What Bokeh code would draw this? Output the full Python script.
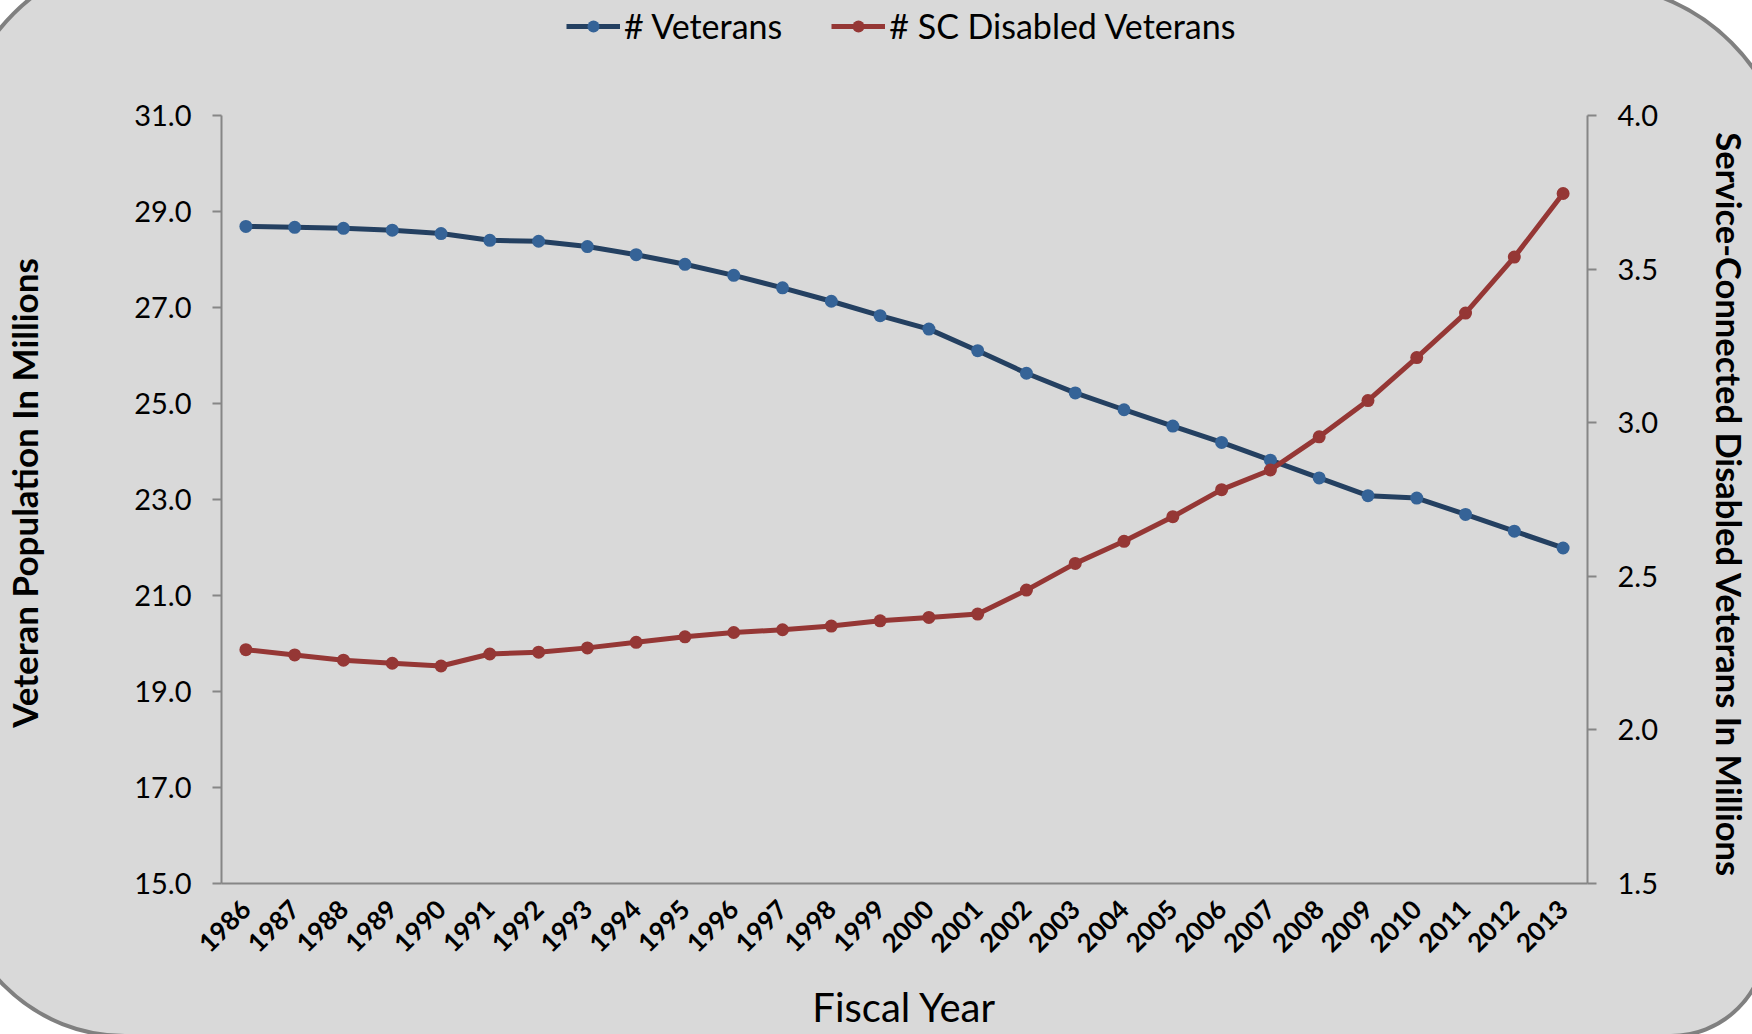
import math
from bokeh.plotting import figure
from bokeh.models import (ColumnDataSource, FactorRange, Range1d, LinearAxis, FixedTicker,
                          NumeralTickFormatter, Legend, LegendItem)
from bokeh.embed import file_html
from bokeh.resources import INLINE

# ---------------- data ----------------
years = ["1986", "1987", "1988", "1989", "1990", "1991", "1992", "1993", "1994", "1995",
         "1996", "1997", "1998", "1999", "2000", "2001", "2002", "2003", "2004", "2005",
         "2006", "2007", "2008", "2009", "2010", "2011", "2012", "2013"]
veterans = [28.69, 28.67, 28.65, 28.61, 28.54, 28.40, 28.38, 28.27, 28.10, 27.90,
            27.67, 27.41, 27.13, 26.83, 26.55, 26.10, 25.63, 25.22, 24.87, 24.53,
            24.19, 23.82, 23.45, 23.08, 23.03, 22.69, 22.34, 21.99]
sc_disabled = [2.261, 2.244, 2.227, 2.217, 2.208, 2.247, 2.253, 2.267, 2.285, 2.303,
               2.317, 2.326, 2.338, 2.355, 2.366, 2.377, 2.455, 2.542, 2.614, 2.694,
               2.782, 2.846, 2.954, 3.072, 3.212, 3.357, 3.539, 3.746]
left_ticks = [15, 17, 19, 21, 23, 25, 27, 29, 31]
right_ticks = [1.5, 2.0, 2.5, 3.0, 3.5, 4.0]
left_title = "Veteran Population In Millions"
right_title = "Service-Connected Disabled Veterans In Millions"
x_title = "Fiscal Year"

FONT = "Lato"
BLUE_LINE = "#244061"
BLUE_MARK = "#356397"
RED_LINE = "#953735"
RED_MARK = "#953735"
AXIS_GRAY = "#868686"
NBSP = "\u00a0"

# layout (pixels)
W, H = 1752, 1034
AX_TOP, AX_BOTTOM = 115, 883          # where the 31.0 / 15.0 ticks sit
frame_h = AX_BOTTOM                    # frame runs from the top of the canvas
head = AX_TOP / (AX_BOTTOM - AX_TOP)   # headroom above the axes, as a fraction of the axis span

# rounded chart-area background (decorative), drawn via CSS
bg_path = ("M -45 155 A 200 200 0 0 1 155 -45 L 1590 -16 A 200 200 0 0 1 1790 184 "
           "L 1766 941 A 95 95 0 0 1 1671 1036 L 125 1036 A 170 170 0 0 1 -45 866 Z")
bg_svg = ("<svg xmlns='http://www.w3.org/2000/svg' width='1752' height='1034'>"
          "<path d='" + bg_path + "' fill='%23d9d9d9' stroke='%23808080' stroke-width='4'/></svg>")

src = ColumnDataSource(dict(year=years, vet=veterans, sc=sc_disabled))

l0, l1 = left_ticks[0], left_ticks[-1]
r0, r1 = right_ticks[0], right_ticks[-1]
p = figure(width=W, height=H, title_location=None,
           x_range=FactorRange(factors=years, range_padding=0),
           y_range=Range1d(l0, l1 + (l1 - l0) * head),
           output_backend="svg", toolbar_location=None,
           min_border_left=219, min_border_right=157,
           min_border_top=0, min_border_bottom=H - AX_BOTTOM)
p.extra_y_ranges = {"right": Range1d(r0, r1 + (r1 - r0) * head)}

p.styles = {
    "background-image": 'url("data:image/svg+xml;utf8,' + bg_svg + '")',
    "background-repeat": "no-repeat",
}
p.border_fill_alpha = 0
p.background_fill_alpha = 0
p.outline_line_color = None
p.xgrid.visible = False
p.ygrid.visible = False

vl = p.line("year", "vet", source=src, line_color=BLUE_LINE, line_width=5)
vs = p.scatter("year", "vet", source=src, size=13, fill_color=BLUE_MARK, line_color=None)
rl = p.line("year", "sc", source=src, y_range_name="right", line_color=RED_LINE, line_width=5)
rs = p.scatter("year", "sc", source=src, y_range_name="right", size=13,
               fill_color=RED_MARK, line_color=None)

# left axis (non-breaking padding keeps the title centred on the axis span, not the canvas)
la = p.left[0]
la.ticker = FixedTicker(ticks=left_ticks)
la.formatter = NumeralTickFormatter(format="0.0")
la.bounds = (l0, l1)
la.axis_label = left_title + NBSP * 12

# right axis
ra = LinearAxis(y_range_name="right", ticker=FixedTicker(ticks=right_ticks),
                formatter=NumeralTickFormatter(format="0.0"), bounds=(r0, r1),
                axis_label=NBSP * 15 + right_title)
p.add_layout(ra, "right")

for ax in (la, ra):
    ax.axis_line_color = AXIS_GRAY
    ax.axis_line_width = 2
    ax.major_tick_line_color = AXIS_GRAY
    ax.major_tick_line_width = 2
    ax.major_tick_out = 9
    ax.major_tick_in = 0
    ax.minor_tick_line_color = None
    ax.major_label_standoff = 21
    ax.major_label_text_font = FONT
    ax.major_label_text_font_size = "29px"
    ax.major_label_text_color = "#000000"
    ax.axis_label_text_font = FONT
    ax.axis_label_text_font_style = "bold"
    ax.axis_label_text_color = "#000000"
la.axis_label_text_font_size = "35px"
ra.axis_label_text_font_size = "34.5px"
la.axis_label_standoff = 86
ra.axis_label_standoff = 48

# bottom axis
xa = p.below[0]
xa.axis_line_color = AXIS_GRAY
xa.axis_line_width = 2
xa.major_tick_line_color = None
xa.major_tick_out = 0
xa.major_tick_in = 0
xa.minor_tick_line_color = None
xa.major_label_orientation = math.pi / 4
xa.major_label_standoff = 21
xa.major_label_text_font = FONT
xa.major_label_text_font_size = "26px"
xa.major_label_text_font_style = "bold"
xa.major_label_text_color = "#000000"
xa.axis_label = x_title
xa.axis_label_text_font = FONT
xa.axis_label_text_font_size = "40px"
xa.axis_label_text_font_style = "normal"
xa.axis_label_text_color = "#000000"
xa.axis_label_standoff = 19

legend = Legend(items=[LegendItem(label="# Veterans", renderers=[vl, vs]),
                       LegendItem(label="# SC Disabled Veterans", renderers=[rl, rs])],
                orientation="horizontal", location=(345, frame_h - 46),
                background_fill_alpha=0, border_line_color=None,
                padding=0, margin=0, spacing=49, label_standoff=4,
                glyph_width=54, glyph_height=30, label_height=30,
                label_text_font=FONT, label_text_font_size="34px",
                label_text_color="#000000", label_text_baseline="middle")
p.add_layout(legend)

open("out.html", "w").write(file_html(p, INLINE, title="Veteran Population"))
